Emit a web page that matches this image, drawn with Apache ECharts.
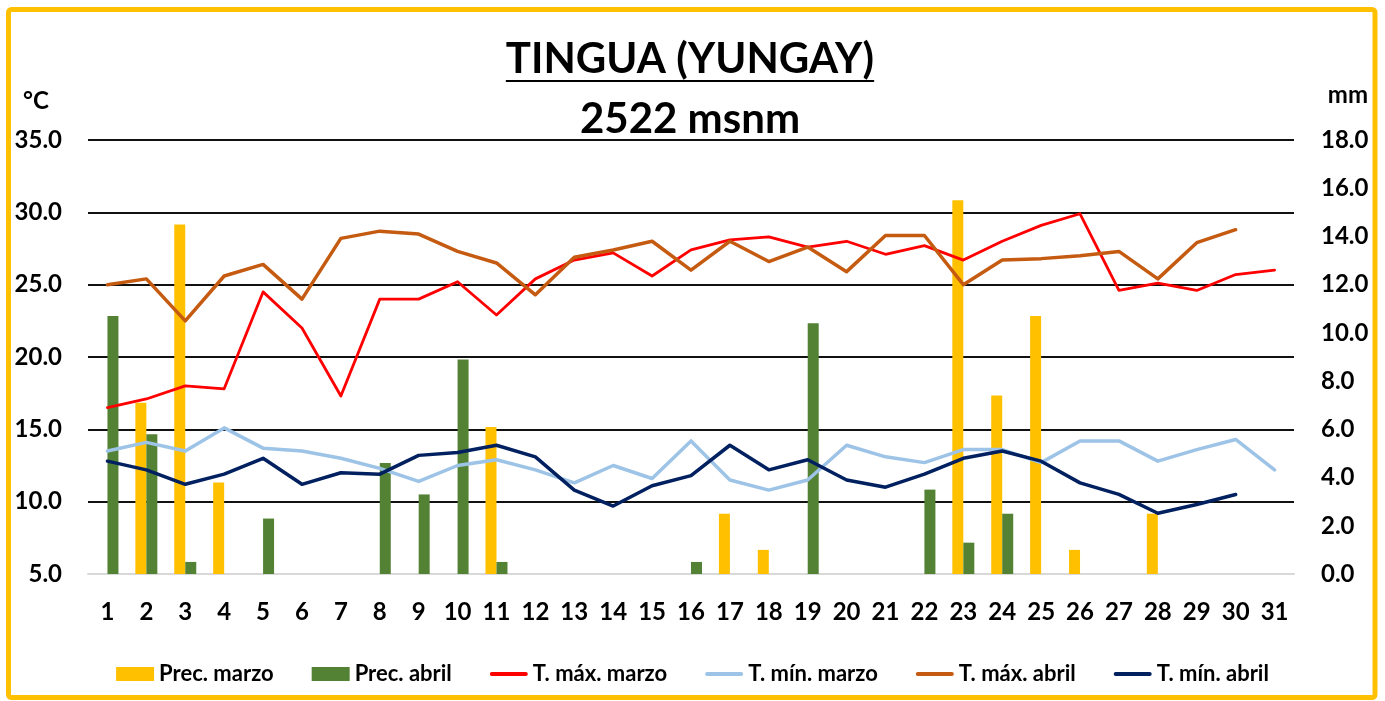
<!DOCTYPE html>
<html>
<head>
<meta charset="utf-8">
<title>TINGUA (YUNGAY)</title>
<script src="https://cdn.jsdelivr.net/npm/echarts@6/dist/echarts.min.js"></script>
<style>
  html, body { margin: 0; padding: 0; background: #fff; }
  #chart { width: 1385px; height: 701px; }
</style>
</head>
<body>
<div id="chart"></div>
<script>
// dias del mes
const days = ['1', '2', '3', '4', '5', '6', '7', '8', '9', '10', '11', '12', '13', '14', '15', '16',
  '17', '18', '19', '20', '21', '22', '23', '24', '25', '26', '27', '28', '29', '30', '31']

// precipitacion (mm)
const precMarzo = [0, 7.1, 14.5, 3.8, 0, 0, 0, 0, 0, 0, 6.1, 0, 0, 0, 0, 0,
  2.5, 1.0, 0, 0, 0, 0, 15.5, 7.4, 10.7, 1.0, 0, 2.5, 0, 0, 0]
const precAbril = [10.7, 5.8, 0.5, 0, 2.3, 0, 0, 4.6, 3.3, 8.9, 0.5, 0, 0, 0, 0, 0.5,
  0, 0, 10.4, 0, 0, 3.5, 1.3, 2.5, 0, 0, 0, 0, 0, 0, null]

// temperaturas (°C)
const tMaxMarzo = [16.5, 17.1, 18.0, 17.8, 24.5, 22.0, 17.3, 24.0, 24.0, 25.2, 22.9, 25.4, 26.7, 27.2, 25.6, 27.4,
  28.1, 28.3, 27.6, 28.0, 27.1, 27.7, 26.7, 28.0, 29.1, 29.9, 24.6, 25.1, 24.6, 25.7, 26.0]
const tMinMarzo = [13.5, 14.1, 13.5, 15.1, 13.7, 13.5, 13.0, 12.3, 11.4, 12.5, 12.9, 12.2, 11.3, 12.5, 11.6, 14.2,
  11.5, 10.8, 11.5, 13.9, 13.1, 12.7, 13.6, 13.6, 12.7, 14.2, 14.2, 12.8, 13.6, 14.3, 12.2]
const tMaxAbril = [25.0, 25.4, 22.5, 25.6, 26.4, 24.0, 28.2, 28.7, 28.5, 27.3, 26.5, 24.3, 26.9, 27.4, 28.0, 26.0,
  28.0, 26.6, 27.6, 25.9, 28.4, 28.4, 25.0, 26.7, 26.8, 27.0, 27.3, 25.4, 27.9, 28.8, null]
const tMinAbril = [12.8, 12.2, 11.2, 11.9, 13.0, 11.2, 12.0, 11.9, 13.2, 13.4, 13.9, 13.1, 10.8, 9.7, 11.1, 11.8,
  13.9, 12.2, 12.9, 11.5, 11.0, 11.9, 13.0, 13.5, 12.8, 11.3, 10.5, 9.2, 9.8, 10.5, null]

// ejes
const tempMin = 5, tempMax = 35, tempStep = 5
const precMin = 0, precMax = 18, precStep = 2

const titleText = 'TINGUA (YUNGAY)'
const subText = '2522 msnm'

const FONT = 'Lato, "Open Sans", sans-serif'
const titleFont = 'bold 42px ' + FONT
// icono de linea para la leyenda (barra fina redondeada)
const lineIcon = 'path://M2,0 L36,0 A2,2 0 0 1 36,4 L2,4 A2,2 0 0 1 2,0 Z'

function textWidth(txt, font) {
  const ctx = document.createElement('canvas').getContext('2d')
  ctx.font = font
  return ctx.measureText(txt).width
}

const chart = echarts.init(document.getElementById('chart'))
const CX = 690
const underlineW = textWidth(titleText, titleFont)

function lineSerie(name, data, color, width) {
  return {
    name: name,
    type: 'line',
    data: data,
    symbol: 'none',
    smooth: false,
    connectNulls: false,
    lineStyle: { color: color, width: width, cap: 'round', join: 'round' },
    itemStyle: { color: color },
    z: 3
  }
}

const option = {
  backgroundColor: '#fff',
  animation: false,
  textStyle: { fontFamily: FONT },
  grid: { left: 88, right: 91, top: 140, bottom: 127, containLabel: false },
  legend: {
    left: 'center',
    top: 658,
    itemWidth: 38,
    itemHeight: 14,
    itemGap: 38,
    textStyle: { fontFamily: FONT, fontWeight: 'bold', fontSize: 22, color: '#000' },
    data: [
      { name: 'Prec. marzo', icon: 'rect' },
      { name: 'Prec. abril', icon: 'rect' },
      { name: 'T. máx. marzo', icon: lineIcon },
      { name: 'T. mín. marzo', icon: lineIcon },
      { name: 'T. máx. abril', icon: lineIcon },
      { name: 'T. mín. abril', icon: lineIcon }
    ]
  },
  xAxis: {
    type: 'category',
    data: days,
    boundaryGap: true,
    axisTick: { show: false },
    axisLine: { lineStyle: { color: '#d9d9d9', width: 2 } },
    axisLabel: { color: '#000', fontWeight: 'bold', fontSize: 24, fontFamily: FONT, margin: 26 },
    splitLine: { show: false }
  },
  yAxis: [
    {
      type: 'value',
      min: tempMin,
      max: tempMax,
      interval: tempStep,
      axisLine: { show: false },
      axisTick: { show: false },
      axisLabel: {
        color: '#000', fontWeight: 'bold', fontSize: 24, fontFamily: FONT, margin: 26,
        formatter: v => v.toFixed(1)
      },
      splitLine: {
        lineStyle: { color: ['#d9d9d9', '#111', '#111', '#111', '#111', '#111', '#111'], width: 2 }
      }
    },
    {
      type: 'value',
      min: precMin,
      max: precMax,
      interval: precStep,
      position: 'right',
      axisLine: { show: false },
      axisTick: { show: false },
      axisLabel: {
        color: '#000', fontWeight: 'bold', fontSize: 24, fontFamily: FONT, margin: 27,
        formatter: v => v.toFixed(1)
      },
      splitLine: { show: false }
    }
  ],
  series: [
    {
      name: 'Prec. marzo',
      type: 'bar',
      yAxisIndex: 1,
      data: precMarzo,
      barWidth: 11,
      barGap: '0%',
      itemStyle: { color: '#ffc000' },
      z: 2
    },
    {
      name: 'Prec. abril',
      type: 'bar',
      yAxisIndex: 1,
      data: precAbril,
      barWidth: 11,
      barGap: '0%',
      itemStyle: { color: '#548235' },
      z: 2
    },
    lineSerie('T. máx. marzo', tMaxMarzo, '#ff0000', 2.8),
    lineSerie('T. mín. marzo', tMinMarzo, '#9dc3e6', 3.5),
    lineSerie('T. máx. abril', tMaxAbril, '#c55a11', 3.5),
    lineSerie('T. mín. abril', tMinAbril, '#002060', 3.5)
  ],
  graphic: [
    {
      type: 'rect',
      shape: { x: 8.5, y: 9.5, width: 1366.5, height: 688, r: 3 },
      style: { fill: 'none', stroke: '#ffc000', lineWidth: 5 },
      silent: true
    },
    {
      type: 'text',
      style: {
        text: titleText, x: CX, y: 59, font: titleFont, fill: '#000',
        textAlign: 'center', textVerticalAlign: 'middle', align: 'center', verticalAlign: 'middle'
      }
    },
    {
      type: 'line',
      shape: { x1: CX - underlineW / 2, y1: 81, x2: CX + underlineW / 2, y2: 81 },
      style: { stroke: '#000', lineWidth: 2 }
    },
    {
      type: 'text',
      style: {
        text: subText, x: CX, y: 119, font: titleFont, fill: '#000',
        textAlign: 'center', textVerticalAlign: 'middle', align: 'center', verticalAlign: 'middle'
      }
    },
    {
      type: 'text',
      style: {
        text: '°C', x: 36, y: 101, font: 'bold 24px ' + FONT, fill: '#000',
        textAlign: 'center', textVerticalAlign: 'middle', align: 'center', verticalAlign: 'middle'
      }
    },
    {
      type: 'text',
      style: {
        text: 'mm', x: 1368, y: 95, font: 'bold 24px ' + FONT, fill: '#000',
        textAlign: 'right', textVerticalAlign: 'middle', align: 'right', verticalAlign: 'middle'
      }
    }
  ]
}

chart.setOption(option)
</script>
</body>
</html>
